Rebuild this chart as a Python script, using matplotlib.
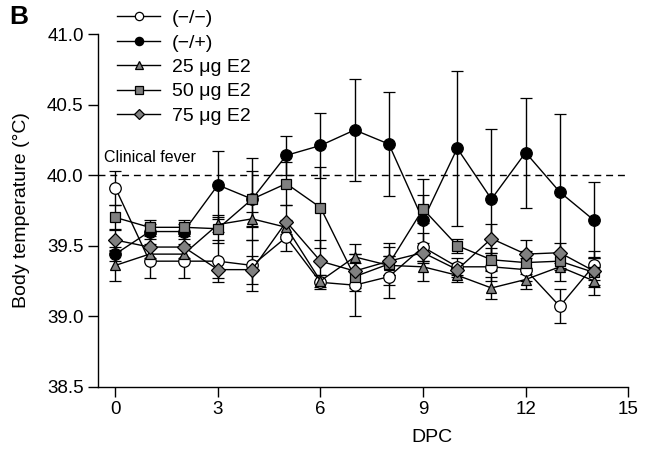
import matplotlib
matplotlib.use("Agg")
import matplotlib.pyplot as plt
import numpy as np

plt.rcParams['font.family'] = ['Liberation Sans', 'DejaVu Sans']

days = list(range(15))
neg = [39.91, 39.39, 39.39, 39.39, 39.36, 39.56, 39.24, 39.22, 39.28, 39.49, 39.35, 39.35, 39.33, 39.07, 39.36]
neg_err = [0.12, 0.12, 0.12, 0.15, 0.18, 0.10, 0.05, 0.22, 0.15, 0.10, 0.06, 0.10, 0.08, 0.12, 0.10]
pos = [39.44, 39.60, 39.60, 39.93, 39.83, 40.14, 40.21, 40.32, 40.22, 39.68, 40.19, 39.83, 40.16, 39.88, 39.68]
pos_err = [0.05, 0.05, 0.05, 0.24, 0.29, 0.14, 0.23, 0.36, 0.37, 0.29, 0.55, 0.50, 0.39, 0.55, 0.27]
e25 = [39.36, 39.44, 39.44, 39.65, 39.69, 39.63, 39.25, 39.42, 39.36, 39.35, 39.29, 39.20, 39.26, 39.35, 39.25]
e25_err = [0.11, 0.05, 0.05, 0.05, 0.05, 0.05, 0.04, 0.09, 0.07, 0.10, 0.05, 0.08, 0.07, 0.10, 0.10]
e50 = [39.70, 39.63, 39.63, 39.62, 39.83, 39.94, 39.77, 39.28, 39.37, 39.76, 39.50, 39.40, 39.38, 39.39, 39.31]
e50_err = [0.09, 0.05, 0.05, 0.10, 0.20, 0.15, 0.29, 0.10, 0.15, 0.10, 0.05, 0.08, 0.08, 0.05, 0.10]
e75 = [39.54, 39.49, 39.49, 39.33, 39.33, 39.67, 39.39, 39.32, 39.39, 39.45, 39.33, 39.55, 39.44, 39.45, 39.32]
e75_err = [0.08, 0.08, 0.08, 0.06, 0.10, 0.12, 0.15, 0.12, 0.10, 0.07, 0.05, 0.10, 0.10, 0.07, 0.10]

labels = ['(\u2212/\u2212)', '(\u2212/+)', '25 \u03bcg E2', '50 \u03bcg E2', '75 \u03bcg E2']
series = [neg, pos, e25, e50, e75]
errs = [neg_err, pos_err, e25_err, e50_err, e75_err]
markers = ['o', 'o', '^', 's', 'D']
faces = ['white', 'black', '#808080', '#808080', '#808080']
msizes = [8.3, 8.3, 7.8, 7.5, 6.8]

fig = plt.figure(figsize=(6.53, 4.54), dpi=100)
ax = fig.add_axes([0.1505, 0.1482, 0.8115, 0.7768])

handles = []
for y, e, m, fc, ms, lab in zip(series, errs, markers, faces, msizes, labels):
    h = ax.errorbar(days, y, yerr=e, color='black', marker=m, markerfacecolor=fc,
                    markeredgecolor='black', markersize=ms, linewidth=1.0,
                    elinewidth=1.0, capsize=4.5, capthick=1.0, label=lab,
                    markeredgewidth=0.9)
    handles.append(h)

ax.axhline(40.0, color='black', linestyle=(0, (5, 3.5)), linewidth=1.0, zorder=0)
ax.text(-0.34, 40.07, 'Clinical fever', fontsize=11.5, ha='left', va='bottom')

ax.set_xlim(-0.5, 15)
ax.set_ylim(38.5, 41.0)
ax.set_xticks([0, 3, 6, 9, 12, 15])
ax.set_yticks([38.5, 39.0, 39.5, 40.0, 40.5, 41.0])
ax.set_yticklabels(['38.5', '39.0', '39.5', '40.0', '40.5', '41.0'])
ax.tick_params(axis='both', labelsize=13.5, direction='out', length=7, width=1.0)
ax.spines['top'].set_visible(False)
ax.spines['right'].set_visible(False)
ax.spines['left'].set_linewidth(1.0)
ax.spines['bottom'].set_linewidth(1.0)
ax.set_ylabel('Body temperature (\u00b0C)', fontsize=14)
ax.set_xlabel('DPC', fontsize=14)
ax.xaxis.set_label_coords(0.63, -0.12)
ax.yaxis.set_label_coords(-0.128, 0.5)

leg_handles = [h[0] for h in handles]
fig.legend(leg_handles, labels, loc='upper left', bbox_to_anchor=(0.168, 0.996),
           frameon=False, fontsize=14, handlelength=2.2, handletextpad=0.6,
           labelspacing=0.35, borderaxespad=0, markerscale=0.72)

fig.text(0.014, 0.988, 'B', fontsize=19, fontweight='bold', ha='left', va='top')

fig.savefig('out.png', dpi=100)
